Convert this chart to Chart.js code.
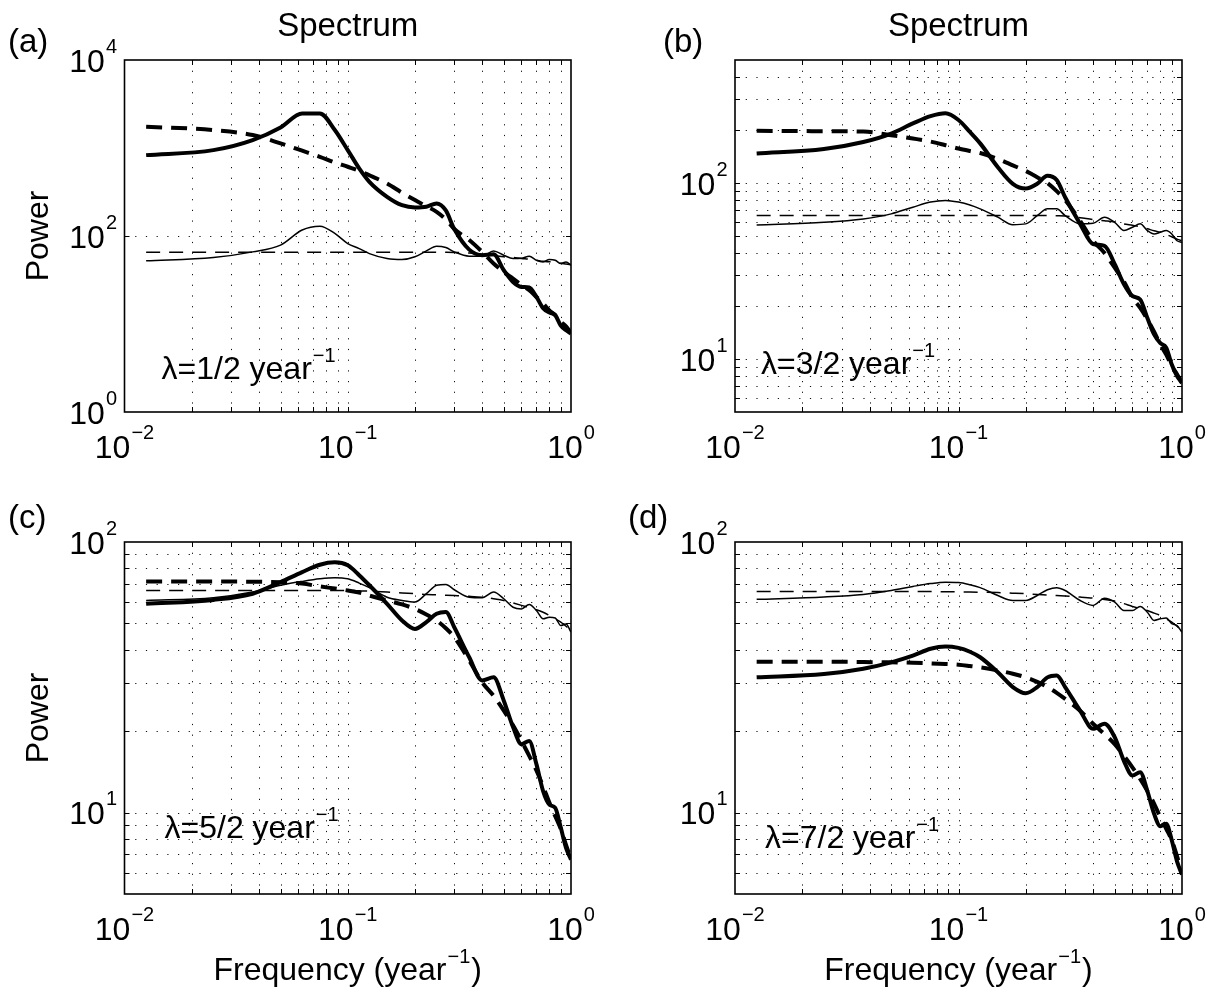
<!DOCTYPE html>
<html>
<head>
<meta charset="utf-8">
<script src="https://cdn.jsdelivr.net/npm/chart.js@4.4.1/dist/chart.umd.min.js"></script>
<style>
  html, body { margin: 0; padding: 0; background: #fff; }
  #wrap { position: relative; width: 1218px; height: 998px; }
  #wrap canvas { position: absolute; left: 0; top: 0; }
</style>
</head>
<body>
<div id="wrap">
  <canvas id="pa" width="1218" height="998"></canvas>
  <canvas id="pb" width="1218" height="998"></canvas>
  <canvas id="pc" width="1218" height="998"></canvas>
  <canvas id="pd" width="1218" height="998"></canvas>
</div>
<script>
// Frequencies (year^-1) at which every spectrum is sampled
const freq = [0.0125, 0.025, 0.0375, 0.05, 0.0625, 0.075, 0.0875, 0.1, 0.1125, 0.125,
              0.15, 0.175, 0.2, 0.225, 0.25, 0.275, 0.3, 0.35, 0.4, 0.45,
              0.5, 0.55, 0.6, 0.65, 0.7, 0.75, 0.8, 0.85, 0.9, 0.95, 1.0];

// (a) lambda = 1/2 year^-1
const aThick     = [830, 946, 1230, 1714, 2472, 2472, 1600, 946, 587, 413,
                    279, 224, 211, 215, 234, 195, 120, 70, 60.5, 62,
                    40.8, 30, 26.4, 26, 20.3, 15.1, 13.5, 12.6, 9.6, 8.5, 7.8];
const aThickDash = [1746, 1600, 1403, 1128, 931, 795, 686, 612, 551, 490,
                    395, 310, 256, 218, 188, 154, 120, 90, 66, 48.6,
                    39, 32.9, 27.5, 24.2, 20.3, 17.1, 14.3, 12.6, 10.6, 9.4, 7.9];
const aThin      = [52.3, 56.9, 66, 78.8, 117, 129, 107, 82, 72, 63,
                    55.4, 54, 58, 67.8, 76.6, 74, 66, 59, 59, 67.7,
                    60.5, 55.4, 55.8, 59, 53, 50.8, 54, 53, 48.6, 50.8, 46.6];
const aThinDash  = [65.5, 65.5, 65.5, 65.5, 65.5, 65.5, 65.5, 65.5, 65.5, 65.5,
                    65.5, 65.5, 65.5, 65.5, 65.5, 65.3, 65, 64, 62, 60,
                    58, 57, 55.5, 54.5, 53, 51.5, 51, 50.5, 49, 48, 47];

// (b) lambda = 3/2 year^-1
const bThick     = [147, 156, 171, 191, 218, 240, 249, 228, 195, 168,
                    123, 99, 93, 99, 110, 104, 83, 58.6, 45, 44,
                    34.6, 26.6, 22.8, 21.8, 17.1, 13.8, 12.3, 11.6, 9.3, 8.0, 7.3];
const bThickDash = [198, 197, 196, 187, 179, 172, 164, 157, 152, 148,
                    137, 126, 117, 108, 100, 90, 80, 61, 47, 40,
                    33, 27.5, 22.3, 19.5, 16.8, 14.3, 12.1, 10.6, 9.1, 8.2, 7.3];
const bThin      = [57.8, 59.8, 62.5, 66.8, 72.9, 77.9, 79.6, 77.9, 75, 71.3,
                    64, 58, 58.6, 65.3, 71.3, 71.3, 65.3, 58.6, 59, 64,
                    59.8, 53.7, 56.1, 58.6, 53.7, 51.3, 52.5, 53.7, 51.3, 47, 46];
const bThinDash  = [65.3, 65.3, 65.3, 65.3, 65.3, 65.3, 65.3, 65.3, 65.3, 65.3,
                    65.3, 65.3, 65.3, 65.3, 65.3, 65.2, 65, 63.5, 62, 61,
                    60, 58.5, 57.5, 56.5, 55, 53.5, 52.5, 51, 49.5, 48, 47];

// (c) lambda = 5/2 year^-1
const cThick     = [59.1, 61.1, 64.4, 71.1, 77.4, 82.4, 84.1, 82, 75.4, 69.2,
                    59.1, 51.3, 47.7, 50.6, 54.3, 55.1, 48.4, 37.5, 30.8, 31.6,
                    25.9, 20.7, 17.9, 18.4, 15.1, 12.0, 10.7, 10.4, 8.8, 7.4, 6.7];
const cThickDash = [71.5, 71.5, 71.3, 71, 70.2, 68.5, 67.3, 66.2, 65, 63.4,
                    60.8, 58.8, 56.6, 54, 51.3, 48, 44.5, 36.5, 30.3, 27,
                    23.8, 21, 18.4, 16.2, 14.3, 12.5, 10.9, 9.7, 8.7, 7.6, 6.7];
const cThin      = [60.8, 62.2, 65.3, 69.2, 71.5, 73.1, 73.8, 73.1, 70.5, 67.8,
                    62.5, 60.8, 60, 64.4, 69.2, 69.7, 66.6, 62.5, 62.2, 65.3,
                    61.7, 57.4, 56.6, 58.8, 55.8, 52, 52.7, 52.4, 49.1, 49.8, 46.4];
const cThinDash  = [66.2, 66.2, 66.2, 66.2, 66.2, 66.2, 66.2, 66.2, 66, 65.8,
                    65.3, 64.8, 64.4, 64, 63.8, 63.6, 63.4, 63, 62.5, 61.7,
                    60.8, 59.5, 58.3, 57.2, 56.2, 55, 53.5, 52, 50.6, 48.8, 47];

// (d) lambda = 7/2 year^-1
const dThick     = [31.6, 32.5, 34, 35.9, 38, 40.3, 41.1, 40.6, 39.3, 37.5,
                    33, 29.1, 27.6, 29.1, 31.6, 32.1, 29.1, 23.8, 20.4, 21.3,
                    19, 15.5, 13.7, 14.1, 12, 9.9, 8.9, 9.1, 7.9, 6.6, 5.9];
const dThickDash = [36.1, 36.1, 36, 35.9, 35.8, 35.6, 35.4, 35.2, 34.8, 34.4,
                    33.5, 32.6, 31.6, 30.4, 29.1, 27.7, 26.3, 23.8, 21.3, 19.5,
                    17.9, 16.2, 14.7, 13.3, 12, 10.8, 9.6, 8.7, 7.9, 6.9, 6];
const dThin      = [61.4, 62.6, 64, 66.2, 68.5, 70.2, 71, 70.8, 69.5, 67.8,
                    63.4, 60.8, 60.8, 63.4, 66.6, 67.8, 66.2, 60.8, 58.3, 62,
                    60, 55.8, 55.8, 57.8, 55, 51.3, 52, 52.4, 49.9, 49.1, 46.4];
const dThinDash  = [65.6, 65.6, 65.6, 65.6, 65.6, 65.6, 65.5, 65.4, 65.3, 65.2,
                    65, 64.7, 64.4, 64, 63.7, 63.4, 63.2, 62.6, 62, 61.3,
                    60.5, 59.2, 57.8, 56.8, 55.8, 54.6, 53.5, 52, 50.6, 48.8, 46.8];

// Tick labels (powers of ten) and dotted grid positions
const xTickValues = [0.01, 0.1, 1];
const xTickExps   = ['\u22122', '\u22121', '0'];
const xGridValues = [0.02, 0.03, 0.04, 0.05, 0.06, 0.07, 0.08, 0.09, 0.1,
                     0.2, 0.3, 0.4, 0.5, 0.6, 0.7, 0.8, 0.9];
const yTicksA = [1, 100, 10000];   const yExpsA = ['0', '2', '4'];
const yTicksB = [10, 100];         const yExpsB = ['1', '2'];
const yTicksCD = [10, 100];        const yExpsCD = ['1', '2'];
const yGridA = [100];
const yGridB = [6, 7, 8, 9, 10, 20, 30, 40, 50, 60, 70, 80, 90, 100, 200, 300, 400];
const yGridCD = [6, 7, 8, 9, 10, 20, 30, 40, 50, 60, 70, 80, 90];

const FONT = '"Liberation Sans", Arial, Helvetica, sans-serif';
const W = 1218, H = 998;
const MAIN_PX = 32, SUP_PX = 20;

// Draw "10" with a raised exponent; anchor: 'center' or 'right'
function drawPow(ctx, exp, x, baseline, anchor) {
  ctx.font = MAIN_PX + 'px ' + FONT;
  const wb = ctx.measureText('10').width;
  ctx.font = SUP_PX + 'px ' + FONT;
  const we = ctx.measureText(exp).width;
  const total = wb + 1 + we;
  const x0 = anchor === 'right' ? x - total : x - total / 2;
  ctx.textAlign = 'left';
  ctx.textBaseline = 'alphabetic';
  ctx.font = MAIN_PX + 'px ' + FONT;
  ctx.fillText('10', x0, baseline);
  ctx.font = SUP_PX + 'px ' + FONT;
  ctx.fillText(exp, x0 + wb + 1, baseline - 19);
}

// Text with a trailing superscript and optional tail, left or centered
function drawSupText(ctx, main, sup, tail, x, baseline, center) {
  ctx.font = MAIN_PX + 'px ' + FONT;
  const wm = ctx.measureText(main).width;
  const wt = tail ? ctx.measureText(tail).width : 0;
  ctx.font = SUP_PX + 'px ' + FONT;
  const ws = ctx.measureText(sup).width;
  const total = wm + 1 + ws + 1 + wt;
  const x0 = center ? x - total / 2 : x;
  ctx.textAlign = 'left';
  ctx.textBaseline = 'alphabetic';
  ctx.font = MAIN_PX + 'px ' + FONT;
  ctx.fillText(main, x0, baseline);
  ctx.font = SUP_PX + 'px ' + FONT;
  ctx.fillText(sup, x0 + wm + 1, baseline - 17);
  if (tail) {
    ctx.font = MAIN_PX + 'px ' + FONT;
    ctx.fillText(tail, x0 + wm + 1 + ws + 1, baseline);
  }
}

const axesPlugin = {
  id: 'matlabAxes',
  beforeDatasetsDraw(chart) {
    const p = chart.options.plugins.matlabAxes;
    const { ctx, chartArea: a, scales } = chart;
    ctx.save();
    ctx.strokeStyle = '#111';
    ctx.lineWidth = 1;
    ctx.setLineDash([1.2, 9.5]);
    p.xGrid.forEach(v => {
      const px = Math.round(scales.x.getPixelForValue(v)) + 0.5;
      ctx.beginPath(); ctx.moveTo(px, a.top); ctx.lineTo(px, a.bottom); ctx.stroke();
    });
    p.yGrid.forEach(v => {
      const py = Math.round(scales.y.getPixelForValue(v)) + 0.5;
      ctx.beginPath(); ctx.moveTo(a.left, py); ctx.lineTo(a.right, py); ctx.stroke();
    });
    ctx.restore();
  },
  afterDraw(chart) {
    const p = chart.options.plugins.matlabAxes;
    const { ctx, chartArea: a, scales } = chart;
    ctx.save();
    ctx.fillStyle = '#000';
    ctx.strokeStyle = '#000';
    // inward tick marks
    ctx.lineWidth = 1;
    const tl = 5;
    p.xGrid.forEach(v => {
      const px = Math.round(scales.x.getPixelForValue(v)) + 0.5;
      ctx.beginPath();
      ctx.moveTo(px, a.bottom); ctx.lineTo(px, a.bottom - tl);
      ctx.moveTo(px, a.top); ctx.lineTo(px, a.top + tl);
      ctx.stroke();
    });
    p.yGrid.forEach(v => {
      const py = Math.round(scales.y.getPixelForValue(v)) + 0.5;
      ctx.beginPath();
      ctx.moveTo(a.left, py); ctx.lineTo(a.left + tl, py);
      ctx.moveTo(a.right, py); ctx.lineTo(a.right - tl, py);
      ctx.stroke();
    });
    // axes box
    ctx.lineWidth = 1.6;
    ctx.strokeRect(a.left, a.top, a.right - a.left, a.bottom - a.top);

    // tick labels
    xTickValues.forEach((v, i) => {
      drawPow(ctx, xTickExps[i], scales.x.getPixelForValue(v), a.bottom + 46, 'center');
    });
    p.yTicks.forEach((v, i) => {
      drawPow(ctx, p.yExps[i], a.left - 7.5, scales.y.getPixelForValue(v) + 11.5, 'right');
    });

    // panel letter
    ctx.font = '33px ' + FONT;
    ctx.textAlign = 'left';
    ctx.textBaseline = 'alphabetic';
    ctx.fillText(p.letter, p.letterX, p.letterY);

    // title
    if (p.title) {
      ctx.font = '33px ' + FONT;
      ctx.textAlign = 'center';
      ctx.fillText(p.title, (a.left + a.right) / 2, 36);
    }
    // y axis label
    if (p.yLabel) {
      ctx.save();
      ctx.font = MAIN_PX + 'px ' + FONT;
      ctx.translate(39, (a.top + a.bottom) / 2);
      ctx.rotate(-Math.PI / 2);
      ctx.textAlign = 'center';
      ctx.textBaseline = 'middle';
      ctx.fillText(p.yLabel, 0, 0);
      ctx.restore();
    }
    // x axis label
    if (p.xLabel) {
      drawSupText(ctx, 'Frequency (year', '\u22121', ')', (a.left + a.right) / 2, 980, true);
    }
    // decay rate annotation
    drawSupText(ctx, p.note, '\u22121', '', a.left + p.noteDx, p.noteY, false);
    ctx.restore();
  }
};

function series(values, width, dash) {
  return {
    data: freq.map((f, i) => ({ x: f, y: values[i] })),
    borderColor: '#000',
    borderWidth: width,
    borderDash: dash,
    borderCapStyle: 'butt',
    borderJoinStyle: 'round',
    pointRadius: 0,
    fill: false,
    cubicInterpolationMode: 'monotone'
  };
}

function makePanel(id, box, yMin, yMax, sets, opts) {
  new Chart(document.getElementById(id), {
    type: 'line',
    data: { datasets: sets },
    options: {
      responsive: false,
      animation: false,
      events: [],
      layout: { padding: { left: box[0], top: box[1], right: W - box[2], bottom: H - box[3] } },
      scales: {
        x: { type: 'logarithmic', display: false, min: 0.01, max: 1 },
        y: { type: 'logarithmic', display: false, min: yMin, max: yMax }
      },
      plugins: { legend: { display: false }, tooltip: { enabled: false }, matlabAxes: opts }
    },
    plugins: [axesPlugin]
  });
}

const THICK = 4, THIN = 1.5;
const DASH_THICK = [16, 9], DASH_THIN = [14, 9];

makePanel('pa', [124.5, 60, 571, 412], 1, 10000, [
  series(aThinDash, THIN, DASH_THIN), series(aThin, THIN, []),
  series(aThickDash, THICK, DASH_THICK), series(aThick, THICK, [])
], { xGrid: xGridValues, yGrid: yGridA, yTicks: yTicksA, yExps: yExpsA,
     letter: '(a)', letterX: 8, letterY: 52, title: 'Spectrum', yLabel: 'Power', xLabel: false,
     note: '\u03bb=1/2 year', noteDx: 37, noteY: 379 });

makePanel('pb', [735, 60, 1182, 412], 5, 500, [
  series(bThinDash, THIN, DASH_THIN), series(bThin, THIN, []),
  series(bThickDash, THICK, DASH_THICK), series(bThick, THICK, [])
], { xGrid: xGridValues, yGrid: yGridB, yTicks: yTicksB, yExps: yExpsB,
     letter: '(b)', letterX: 663, letterY: 52, title: 'Spectrum', yLabel: null, xLabel: false,
     note: '\u03bb=3/2 year', noteDx: 26, noteY: 374 });

makePanel('pc', [124.5, 542, 571, 894], 5, 100, [
  series(cThinDash, THIN, DASH_THIN), series(cThin, THIN, []),
  series(cThickDash, THICK, DASH_THICK), series(cThick, THICK, [])
], { xGrid: xGridValues, yGrid: yGridCD, yTicks: yTicksCD, yExps: yExpsCD,
     letter: '(c)', letterX: 8, letterY: 528, title: null, yLabel: 'Power', xLabel: true,
     note: '\u03bb=5/2 year', noteDx: 40, noteY: 838 });

makePanel('pd', [735, 542, 1182, 894], 5, 100, [
  series(dThinDash, THIN, DASH_THIN), series(dThin, THIN, []),
  series(dThickDash, THICK, DASH_THICK), series(dThick, THICK, [])
], { xGrid: xGridValues, yGrid: yGridCD, yTicks: yTicksCD, yExps: yExpsCD,
     letter: '(d)', letterX: 628, letterY: 528, title: null, yLabel: null, xLabel: true,
     note: '\u03bb=7/2 year', noteDx: 30, noteY: 848 });
</script>
</body>
</html>
